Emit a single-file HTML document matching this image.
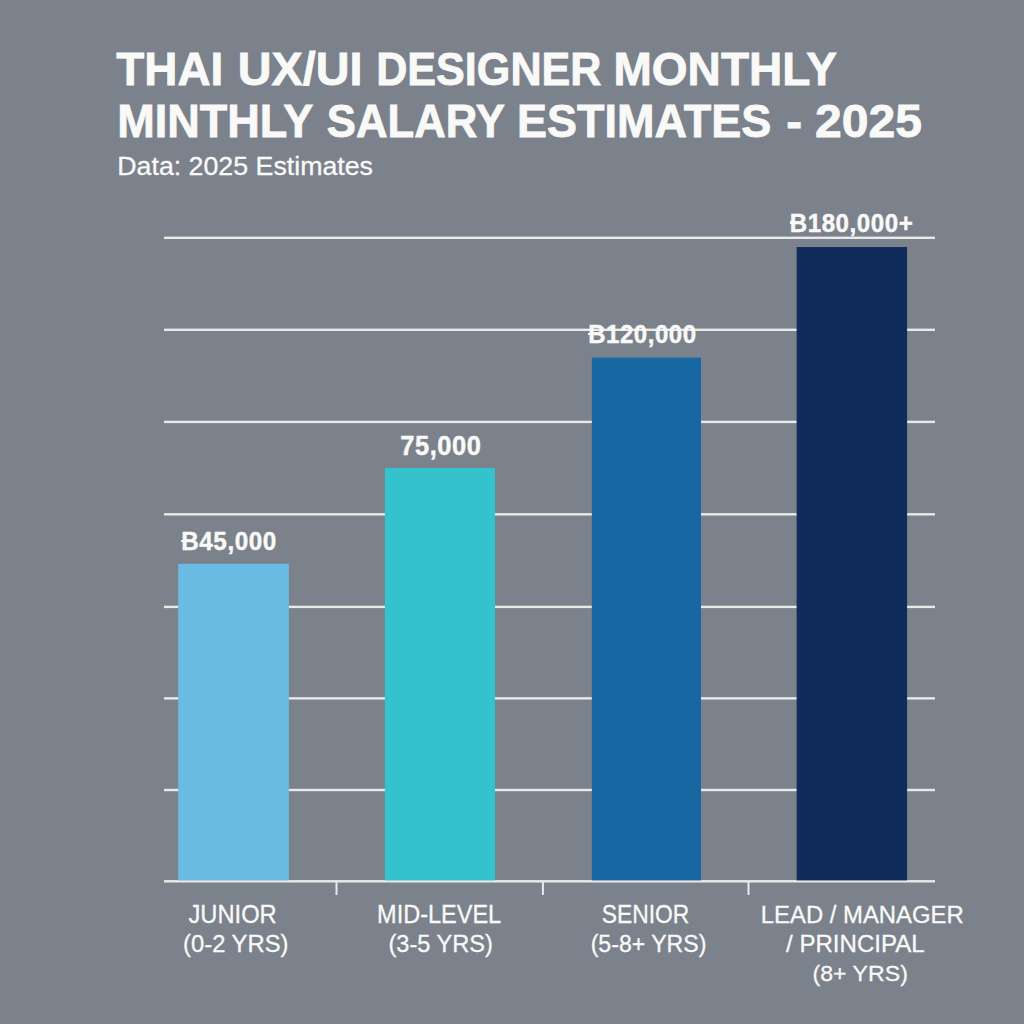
<!DOCTYPE html>
<html>
<head>
<meta charset="utf-8">
<title>Thai UX/UI Designer Monthly Salary Estimates 2025</title>
<style>
html,body{margin:0;padding:0;}
body{width:1024px;height:1024px;overflow:hidden;background:#7b828c;position:relative;font-family:"Liberation Sans",sans-serif;}
.t{position:absolute;white-space:nowrap;color:#f9f9f8;line-height:1;transform-origin:0 0;}
.b{font-weight:bold;-webkit-text-stroke:0.8px #f9f9f8;}
.r{font-weight:normal;-webkit-text-stroke:0.3px #f9f9f8;}
.stub{position:absolute;width:3px;height:2.5px;background:#f9f9f8;}
</style>
</head>
<body>

<svg style="position:absolute;left:0;top:0" width="1024" height="1024" viewBox="0 0 1024 1024"><rect x="164" y="236.60" width="771" height="2.4" fill="#e9e9e8"/><rect x="164" y="328.60" width="771" height="2.4" fill="#e9e9e8"/><rect x="164" y="420.70" width="771" height="2.4" fill="#e9e9e8"/><rect x="164" y="513.10" width="771" height="2.4" fill="#e9e9e8"/><rect x="164" y="605.70" width="771" height="2.4" fill="#e9e9e8"/><rect x="164" y="697.15" width="771" height="2.4" fill="#e9e9e8"/><rect x="164" y="788.80" width="771" height="2.4" fill="#e9e9e8"/><rect x="164" y="880.10" width="771" height="2.4" fill="#e9e9e8"/><rect x="335.50" y="881" width="2" height="14" fill="#e9e9e8"/><rect x="541.90" y="881" width="2" height="14" fill="#e9e9e8"/><rect x="747.50" y="881" width="2" height="14" fill="#e9e9e8"/></svg>
<svg style="position:absolute;left:0;top:0" width="1024" height="1024" viewBox="0 0 1024 1024"><rect x="178.2" y="563.8" width="110.70" height="316.60" fill="#6abbe3"/><rect x="384.9" y="468.0" width="110.10" height="412.40" fill="#34c3cd"/><rect x="591.8" y="357.6" width="109.20" height="522.80" fill="#1768a2"/><rect x="796.6" y="247.0" width="110.50" height="633.40" fill="#0f2c5b"/></svg>
<div class="t b" style="left:116px;top:44px;font-size:46px;-webkit-text-stroke-width:0.8px;transform:translate(0.33px,0.85px) scale(0.9974,1.0216)">THAI</div>
<div class="t b" style="left:237px;top:44px;font-size:46px;-webkit-text-stroke-width:0.8px;transform:translate(0.69px,0.85px) scale(1.0169,1.0216)">UX/UI</div>
<div class="t b" style="left:376px;top:44px;font-size:46px;-webkit-text-stroke-width:0.8px;transform:translate(0.17px,0.85px) scale(0.9378,1.0216)">DESIGNER</div>
<div class="t b" style="left:613px;top:44px;font-size:46px;-webkit-text-stroke-width:0.8px;transform:translate(0.44px,0.85px) scale(1.0011,1.0216)">MONTHLY</div>
<div class="t b" style="left:117px;top:98px;font-size:46px;-webkit-text-stroke-width:0.8px;transform:translate(0.15px,0.09px) scale(0.9796,1.0005)">MINTHLY</div>
<div class="t b" style="left:326px;top:98px;font-size:46px;-webkit-text-stroke-width:0.8px;transform:translate(0.70px,0.09px) scale(0.9513,1.0005)">SALARY</div>
<div class="t b" style="left:516px;top:98px;font-size:46px;-webkit-text-stroke-width:0.8px;transform:translate(0.88px,0.09px) scale(0.9788,1.0005)">ESTIMATES</div>
<div class="t b" style="left:786px;top:98px;font-size:46px;-webkit-text-stroke-width:0.8px;transform:translate(0.18px,0.09px) scale(1.0342,1.0005)">-</div>
<div class="t b" style="left:814px;top:98px;font-size:46px;-webkit-text-stroke-width:0.8px;transform:translate(0.89px,0.09px) scale(1.0457,1.0005)">2025</div>
<div class="t r" style="left:117px;top:153px;font-size:26px;-webkit-text-stroke-width:0.3px;transform:translate(0.26px,0.15px) scale(1.0287,1.0151)">Data: 2025 Estimates</div>
<div class="t b" style="left:181px;top:527px;font-size:26px;letter-spacing:0.6px;-webkit-text-stroke-width:0.45px;transform:translate(0.21px,0.98px) scale(0.9331,0.9984)">B45,000</div>
<div class="t b" style="left:400px;top:431px;font-size:26px;letter-spacing:0.6px;-webkit-text-stroke-width:0.45px;transform:translate(0.15px,0.95px) scale(0.9793,1.0285)">75,000</div>
<div class="t b" style="left:588px;top:321px;font-size:26px;letter-spacing:0.6px;-webkit-text-stroke-width:0.45px;transform:translate(0.14px,0.45px) scale(0.9227,0.9614)">B120,000</div>
<div class="t b" style="left:789px;top:209px;font-size:26px;letter-spacing:0.6px;-webkit-text-stroke-width:0.45px;transform:translate(0.76px,0.61px) scale(0.9266,0.9989)">B180,000+</div>
<div class="t r" style="left:188px;top:902px;font-size:24px;-webkit-text-stroke-width:0.3px;transform:translate(0.48px,0.45px) scale(0.9874,1.0415)">JUNIOR</div>
<div class="t r" style="left:183px;top:931px;font-size:24px;-webkit-text-stroke-width:0.3px;transform:translate(0.10px,0.27px) scale(0.9915,1.0159)">(0-2 YRS)</div>
<div class="t r" style="left:377px;top:902px;font-size:24px;-webkit-text-stroke-width:0.3px;transform:translate(0.10px,0.45px) scale(0.9792,1.0415)">MID-LEVEL</div>
<div class="t r" style="left:388px;top:931px;font-size:24px;-webkit-text-stroke-width:0.3px;transform:translate(0.40px,0.27px) scale(0.9837,1.0159)">(3-5 YRS)</div>
<div class="t r" style="left:601px;top:902px;font-size:24px;-webkit-text-stroke-width:0.3px;transform:translate(0.83px,0.45px) scale(0.9499,1.0415)">SENIOR</div>
<div class="t r" style="left:590px;top:931px;font-size:24px;-webkit-text-stroke-width:0.3px;transform:translate(0.68px,0.27px) scale(0.9619,1.0159)">(5-8+ YRS)</div>
<div class="t r" style="left:760px;top:902px;font-size:24px;-webkit-text-stroke-width:0.3px;transform:translate(0.85px,1.00px) scale(0.9937,1.0046)">LEAD / MANAGER</div>
<div class="t r" style="left:786px;top:932px;font-size:24px;-webkit-text-stroke-width:0.3px;transform:translate(0.08px,0.23px) scale(1.0020,0.9932)">/ PRINCIPAL</div>
<div class="t r" style="left:812px;top:962px;font-size:24px;-webkit-text-stroke-width:0.3px;transform:translate(0.49px,0.06px) scale(0.9638,0.9450)">(8+ YRS)</div>
<div class="stub" style="left:180.5px;top:539.5px"></div>
<div class="stub" style="left:587.5px;top:332.5px"></div>
<div class="stub" style="left:789.5px;top:221px"></div>
</body>
</html>
